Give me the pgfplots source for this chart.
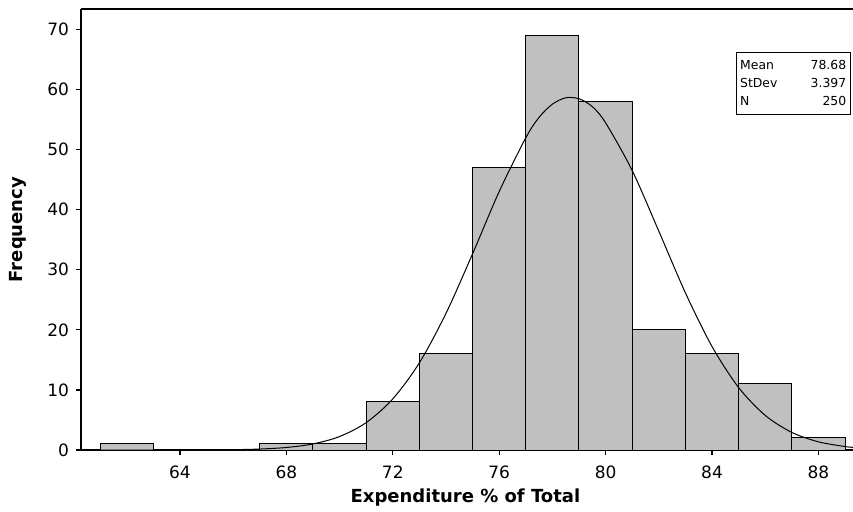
\documentclass[border=0pt]{standalone}
\usepackage{fontspec}
\setmainfont{DejaVu Sans}
\usepackage{array}
\usepackage{pgfplots}
\pgfplotsset{compat=1.18}
\definecolor{barfill}{RGB}{192,192,192}
\begin{document}
\begin{tikzpicture}
\path[use as bounding box] (-40.5pt,-30.5pt) rectangle (386pt,225pt);
\begin{axis}[
  scale only axis,
  width=386pt, height=220.5pt,
  xmin=60.28, xmax=89.3,
  ymin=0, ymax=73.4,
  axis x line*=bottom, axis y line*=left,
  axis line style={line width=0.6pt},
  xtick={64,68,72,76,80,84,88},
  ytick={0,10,20,30,40,50,60,70},
  tick align=outside,
  major tick length=2.5pt,
  tick style={line width=0.6pt,black},
  /pgf/number format/assume math mode=true,
  ticklabel style={font=\fontsize{8.5}{10}\selectfont},
  xticklabel style={yshift=-2pt},
  xlabel={\bfseries Expenditure \% of Total},
  ylabel={\bfseries Frequency},
  every axis x label/.style={at={(axis description cs:0.498,-0.120)},anchor=base,font=\fontsize{9}{11}\selectfont},
  every axis y label/.style={at={(axis description cs:-0.0622,0.5)},rotate=90,anchor=south,font=\fontsize{9}{11}\selectfont},
  clip=false,
]
\addplot[ybar interval, fill=barfill, draw=black, line width=0.5pt] coordinates {
  (61,1) (63,0) (65,0) (67,1) (69,1) (71,8) (73,16) (75,47) (77,69) (79,58) (81,20) (83,16) (85,11) (87,2) (89,0)
};
\addplot[black, line width=0.5pt, smooth] coordinates {
  (60.3,0) (62,0) (64,0.003) (65,0.018) (66,0.055) (67,0.16) (68,0.42) (69,1.01) (70,2.24) (71,4.56) (72,8.50) (73,14.51) (74,22.74) (75,32.66) (76,43.02) (77,51.96) (77.5,55.37) (78,57.56) (78.5,58.62) (79,58.46) (79.5,57.15) (80,54.45) (81,46.51) (82,36.43) (83,26.16) (84,17.23) (85,10.40) (86,5.76) (87,2.93) (88,1.36) (89,0.58) (89.3,0.45)
};
\draw[line width=0.6pt] (rel axis cs:0,1) -- (rel axis cs:1,1);
\node[draw=black, line width=0.5pt, anchor=north east, inner sep=2pt, font=\fontsize{6.2}{9}\selectfont] at (rel axis cs:0.997,0.9025) {%
  \begin{tabular}{@{}p{24pt}@{}>{\raggedleft\arraybackslash}p{29pt}@{}}
  Mean & 78.68\\
  StDev & 3.397\\
  N & 250
  \end{tabular}};
\end{axis}
\end{tikzpicture}
\end{document}
